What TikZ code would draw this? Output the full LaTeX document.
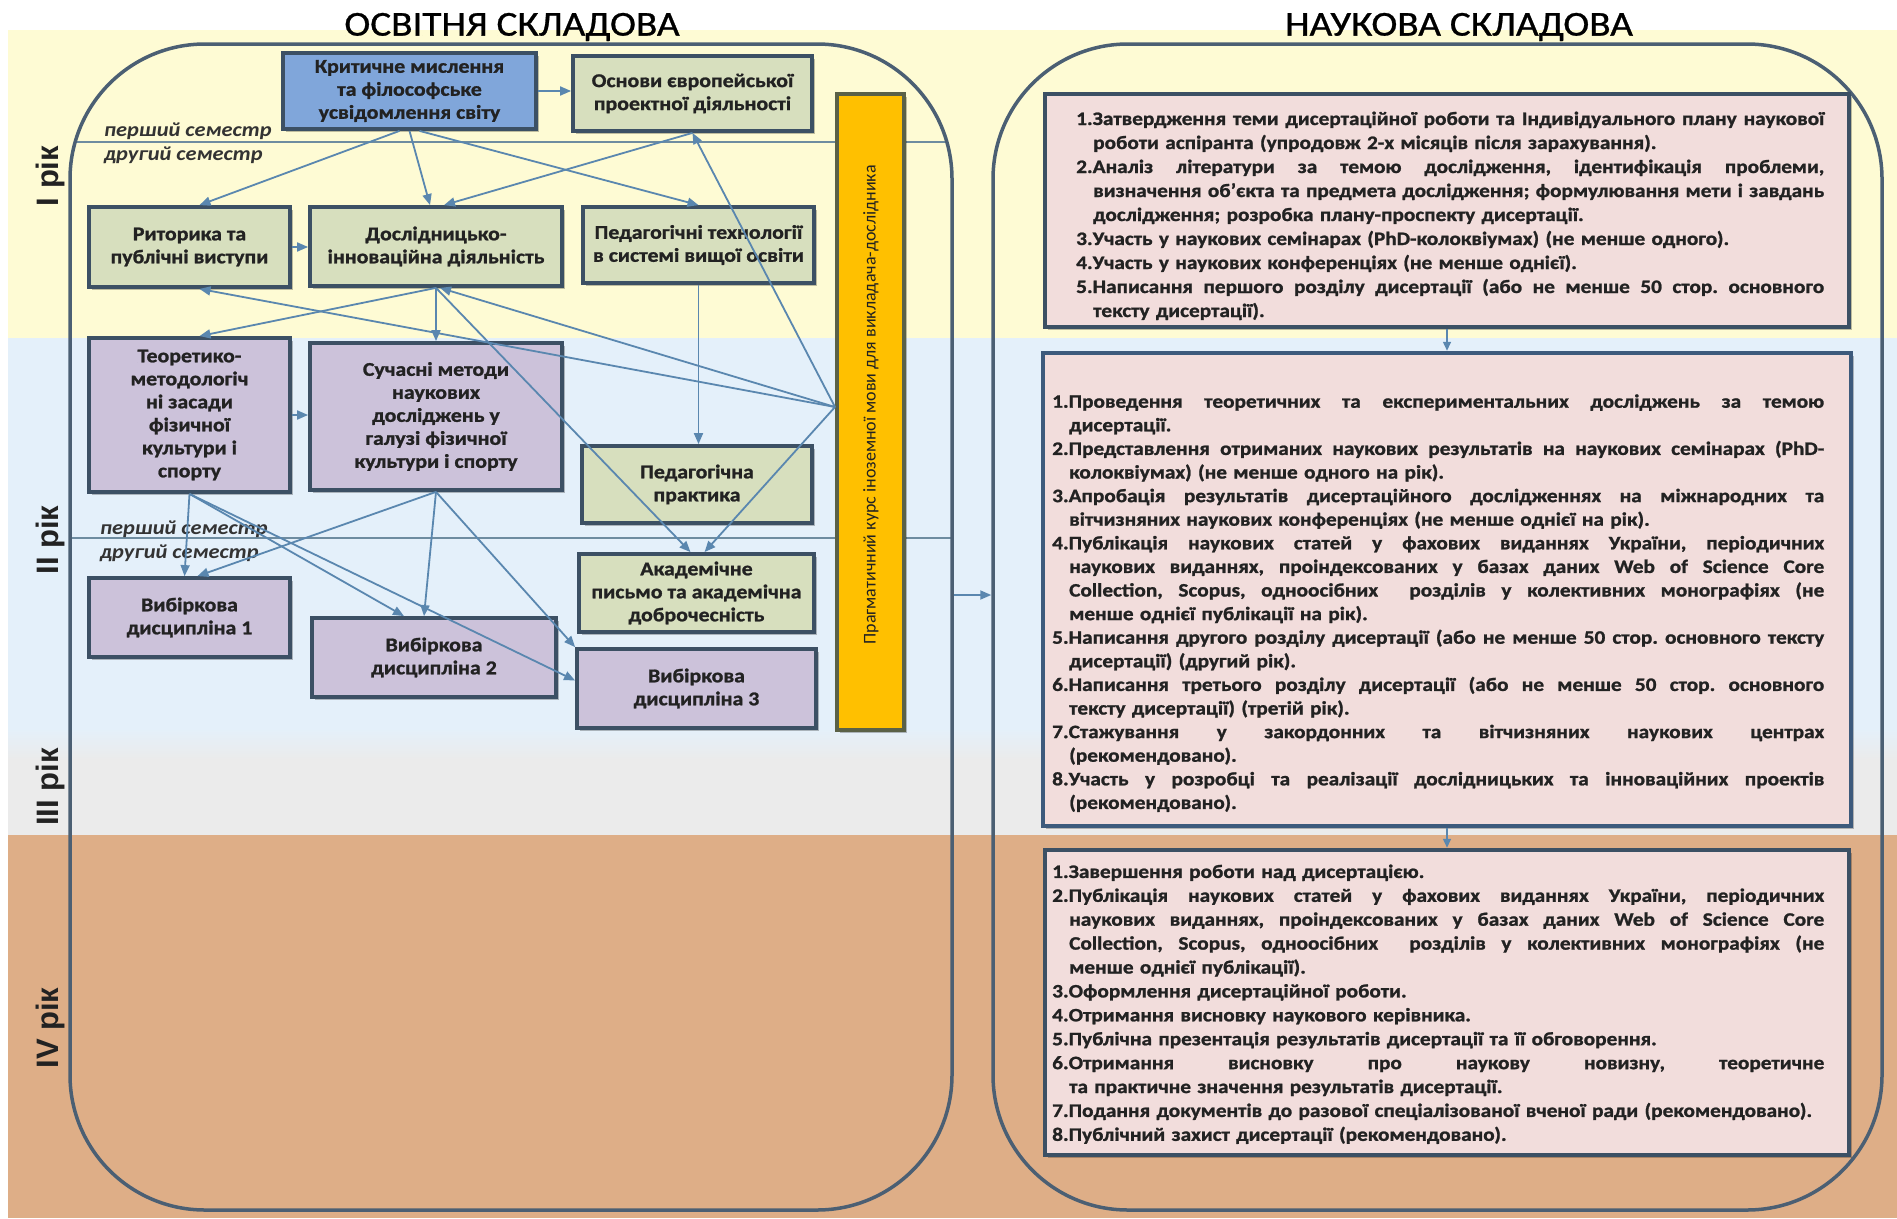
\documentclass[tikz,border=0pt]{standalone}
\usepackage{fontspec}
\setmainfont{Carlito}[FakeStretch=1.12, BoldFeatures={FakeBold=1.2}]
\newfontfamily\plainfont{Carlito}
\newfontfamily\titlefont{Carlito}[FakeStretch=1.12, FakeBold=0.8]
\newfontfamily\yearfont{Liberation Sans}
\usetikzlibrary{arrows.meta,shadows}

\definecolor{bandY}{HTML}{FEFBD4}
\definecolor{bandB}{HTML}{E4F0FA}
\definecolor{bandG}{HTML}{EBEBEB}
\definecolor{bandO}{HTML}{DEAE87}
\definecolor{frameC}{HTML}{4B5F73}
\definecolor{boxLine}{HTML}{3C5064}
\definecolor{boxLineB}{HTML}{3D5A7C}
\definecolor{fillGreen}{HTML}{D7DFBE}
\definecolor{fillLav}{HTML}{CCC2DA}
\definecolor{fillBlue}{HTML}{80A6DA}
\definecolor{fillPink}{HTML}{F2DDDC}
\definecolor{barFill}{HTML}{FFC000}
\definecolor{barLine}{HTML}{5A6147}
\definecolor{conn}{HTML}{5A87AF}
\definecolor{semLine}{HTML}{6E8CA0}
\definecolor{txt}{HTML}{222222}

\newlength\hind
\setlength\hind{17pt}
\newcommand\jsp{\frenchspacing\spaceskip=\fontdimen2\font plus 1fil minus 0.3\fontdimen2\font\relax}
\newcommand\myJ[1]{\noindent\makebox[\linewidth][s]{\jsp\strut#1}\par}
\newcommand\myJi[1]{\noindent\hspace*{\hind}\makebox[\dimexpr\linewidth-\hind\relax][s]{\jsp\strut#1}\par}
\newcommand\myL[1]{\noindent{\frenchspacing\strut#1}\par}
\newcommand\myLi[1]{\noindent\hspace*{\hind}{\frenchspacing\strut#1}\par}

\begin{document}
\begin{tikzpicture}[x=1pt,y=-1pt,
  shad/.style={drop shadow={shadow xshift=2.5pt, shadow yshift=-2.5pt, opacity=0.25, fill=black}},
  lbox/.style={draw=boxLine, line width=3.8pt, align=center, inner sep=2pt, text=txt, shad,
    font=\fontsize{19.5}{23}\selectfont\bfseries},
  gbox/.style={lbox, fill=fillGreen},
  vbox/.style={lbox, fill=fillLav},
  bbox/.style={lbox, fill=fillBlue},
  rbox/.style={draw=boxLine, line width=4.5pt, fill=fillPink, shad},
  rtext/.style={anchor=north west, inner sep=0pt, text=txt},
  arr/.style={draw=conn, line width=1.8pt, -{Triangle[length=11pt,width=9pt]}},
  arrs/.style={draw=conn, line width=1.5pt, -{Triangle[length=9pt,width=8pt]}},
  frame/.style={draw=frameC, line width=3.5pt, rounded corners=135pt},
  semline/.style={draw=semLine, line width=1.5pt},
  semtext/.style={anchor=west, font=\fontsize{20}{22}\selectfont\bfseries\itshape, text=black!80, inner sep=0pt},
  yearlab/.style={rotate=90, font=\yearfont\fontsize{31}{33}\selectfont\bfseries, text=txt, inner sep=0pt},
  titlelab/.style={font=\titlefont\fontsize{35}{38}\selectfont, text=black, inner sep=0pt}
]
% background bands
\fill[white] (0,0) rectangle (1897,1218);
\useasboundingbox (0,0) rectangle (1897,1218);
\fill[bandY] (8,30) rectangle (1897,338);
\fill[bandB] (8,338) rectangle (1897,744);
\fill[bandG] (8,744) rectangle (1897,835);
\shade[top color=bandB, bottom color=bandG] (8,728) rectangle (1897,760);
\fill[bandO] (8,835) rectangle (1897,1218);

% titles
\node[titlelab] (t1) at (512,27) {ОСВІТНЯ СКЛАДОВА};
\node[titlelab] (t2) at (1459,27) {НАУКОВА СКЛАДОВА};

% year labels
\node[yearlab] (y1) at (50,176) {I рік};
\node[yearlab] (y2) at (50,540) {II рік};
\node[yearlab] (y3) at (50,787) {III рік};
\node[yearlab] (y4) at (50,1028) {IV рік};

% semester lines
\begin{scope}
  \clip[rounded corners=135pt] (70,44) rectangle (952,1210);
  \draw[semline] (60,142) -- (960,142);
  \draw[semline] (60,538) -- (960,538);
\end{scope}
\node[semtext] (s1) at (104,131) {перший семестр};
\node[semtext] (s2) at (104,155) {другий семестр};
\node[semtext] (s3) at (100,529) {перший семестр};
\node[semtext] (s4) at (100,553) {другий семестр};

% containers
\node[frame, minimum width=882pt, minimum height=1166pt] (leftC) at (511,627) {};
\node[frame, minimum width=889pt, minimum height=1166pt] (rightC) at (1437.5,627) {};

% left boxes
\node[bbox, minimum width=253pt, minimum height=76pt] (crit) at (409.5,91) {Критичне мислення\\та філософське\\усвідомлення світу};
\node[gbox, minimum width=239pt, minimum height=75pt] (osnovy) at (692.5,93.5) {Основи європейської\\проектної діяльності};
\node[gbox, minimum width=201pt, minimum height=80pt] (ryt) at (189.5,247) {Риторика та\\публічні виступи};
\node[gbox, minimum width=252pt, minimum height=79pt] (dosl) at (436,246.5) {Дослідницько-\\інноваційна діяльність};
\node[gbox, minimum width=231pt, minimum height=76pt] (pedtech) at (698.5,245) {Педагогічні технології\\в системі вищої освіти};
\node[vbox, minimum width=201pt, minimum height=154pt] (teor) at (189.5,415) {Теоретико-\\методологіч\\ні засади\\фізичної\\культури і\\спорту};
\node[vbox, minimum width=252pt, minimum height=147pt] (such) at (436,416.5) {Сучасні методи\\наукових\\досліджень у\\галузі фізичної\\культури і спорту};
\node[gbox, minimum width=230pt, minimum height=77pt] (pedpr) at (697,484.5) {Педагогічна\\практика};
\node[gbox, minimum width=235pt, minimum height=78pt] (akad) at (696.5,593) {Академічне\\письмо та академічна\\доброчесність};
\node[vbox, minimum width=201pt, minimum height=79pt] (vyb1) at (189.5,617.5) {Вибіркова\\дисципліна 1};
\node[vbox, minimum width=244pt, minimum height=79pt] (vyb2) at (434,657.5) {Вибіркова\\дисципліна 2};
\node[vbox, minimum width=239pt, minimum height=79pt] (vyb3) at (696.5,688.5) {Вибіркова\\дисципліна 3};

% orange bar
\node[draw=barLine, line width=4pt, fill=barFill, shad, minimum width=67pt, minimum height=636pt] (prag) at (870.5,412) {};
\node[rotate=90, inner sep=0pt, text=txt, font=\plainfont\fontsize{18}{20}\selectfont] (pragtext) at (871,405) {Прагматичний курс іноземної мови для викладача-дослідника};

% connectors (left)
\coordinate (P) at ([yshift=5pt]prag.west);
\draw[arr] (crit.east) -- (crit.east -| osnovy.west);
\draw[arr] ([xshift=-10pt]crit.south) -- ([xshift=10pt]ryt.north);
\draw[arr] (crit.south) -- ([xshift=-6pt]dosl.north);
\draw[arr] ([xshift=10pt]crit.south) -- (pedtech.north);
\draw[arr] (osnovy.south) -- ([xshift=8pt]dosl.north);
\draw[arr] (P) -- (osnovy.south);
\draw[arr] (ryt.east) -- (ryt.east -| dosl.west);
\draw[arr] (dosl.south) -- (such.north);
\draw[arr] (dosl.south) -- ([xshift=10pt]teor.north);
\draw[arr] (P) -- ([xshift=10pt]ryt.south);
\draw[arr] (P) -- ([xshift=4pt]dosl.south);
\draw[arr] (P) -- ([xshift=8pt]akad.north);
\draw[arr] (dosl.south) -- ([xshift=-6pt]akad.north);
\draw[arr] (pedtech.south) -- (pedtech.south |- pedpr.north);
\draw[arr] (teor.east) -- (teor.east -| such.west);
\draw[arr] (teor.south) -- ([xshift=-5pt]vyb1.north);
\draw[arr] (teor.south) -- ([xshift=-30pt]vyb2.north);
\draw[arr] (teor.south) -- ([yshift=8pt]vyb3.west);
\draw[arr] (such.south) -- ([xshift=8pt]vyb1.north);
\draw[arr] (such.south) -- ([xshift=-10pt]vyb2.north);
\draw[arr] (such.south) -- (vyb3.north west);

% container arrow
\draw[arr] ([yshift=32pt]leftC.east) -- ([yshift=32pt]rightC.west);

% right boxes
\node[rbox, minimum width=804pt, minimum height=233pt] (boxA) at (1447,210.5) {};
\node[rbox, draw=boxLineB, minimum width=808pt, minimum height=473pt] (boxB) at (1447,589.5) {};
\node[rbox, minimum width=804pt, minimum height=305pt] (boxC) at (1447,1002.5) {};

\draw[arrs] (boxA.south) -- (boxA.south |- boxB.north);
\draw[arrs] (boxB.south) -- (boxB.south |- boxC.north);

\node[rtext, text width=748pt, font=\fontsize{19}{24}\selectfont\bfseries] (textA) at (1076,108) {%
\myJ{1.Затвердження теми дисертаційної роботи та Індивідуального плану наукової}
\myLi{роботи аспіранта (упродовж 2-х місяців після зарахування).}
\myJ{2.Аналіз літератури за темою дослідження, ідентифікація проблеми,}
\myJi{визначення об’єкта та предмета дослідження; формулювання мети і завдань}
\myLi{дослідження; розробка плану-проспекту дисертації.}
\myL{3.Участь у наукових семінарах (PhD-колоквіумах) (не менше одного).}
\myL{4.Участь у наукових конференціях (не менше однієї).}
\myJ{5.Написання першого розділу дисертації (або не менше 50 стор. основного}
\myLi{тексту дисертації).}};

\node[rtext, text width=772pt, font=\fontsize{19}{23.6}\selectfont\bfseries] (textB) at (1052,391) {%
\myJ{1.Проведення теоретичних та експериментальних досліджень за темою}
\myLi{дисертації.}
\myJ{2.Представлення отриманих наукових результатів на наукових семінарах (PhD-}
\myLi{колоквіумах) (не менше одного на рік).}
\myJ{3.Апробація результатів дисертаційного дослідженнях на міжнародних та}
\myLi{вітчизняних наукових конференціях (не менше однієї на рік).}
\myJ{4.Публікація наукових статей у фахових виданнях України, періодичних}
\myJi{наукових виданнях, проіндексованих у базах даних Web of Science Core}
\myJi{Collection, Scopus, одноосібних \ розділів у колективних монографіях (не}
\myLi{менше однієї публікації на рік).}
\myJ{5.Написання другого розділу дисертації (або не менше 50 стор. основного тексту}
\myLi{дисертації) (другий рік).}
\myJ{6.Написання третього розділу дисертації (або не менше 50 стор. основного}
\myLi{тексту дисертації) (третій рік).}
\myJ{7.Стажування у закордонних та вітчизняних наукових центрах}
\myLi{(рекомендовано).}
\myJ{8.Участь у розробці та реалізації дослідницьких та інноваційних проектів}
\myLi{(рекомендовано).}};

\node[rtext, text width=772pt, font=\fontsize{19}{23.9}\selectfont\bfseries] (textC) at (1052,861) {%
\myL{1.Завершення роботи над дисертацією.}
\myJ{2.Публікація наукових статей у фахових виданнях України, періодичних}
\myJi{наукових виданнях, проіндексованих у базах даних Web of Science Core}
\myJi{Collection, Scopus, одноосібних \ розділів у колективних монографіях (не}
\myLi{менше однієї публікації).}
\myL{3.Оформлення дисертаційної роботи.}
\myL{4.Отримання висновку наукового керівника.}
\myL{5.Публічна презентація результатів дисертації та її обговорення.}
\myJ{6.Отримання висновку про наукову новизну, теоретичне}
\myLi{та практичне значення результатів дисертації.}
\myL{7.Подання документів до разової спеціалізованої вченої ради (рекомендовано).}
\myL{8.Публічний захист дисертації (рекомендовано).}};
\end{tikzpicture}
\end{document}
